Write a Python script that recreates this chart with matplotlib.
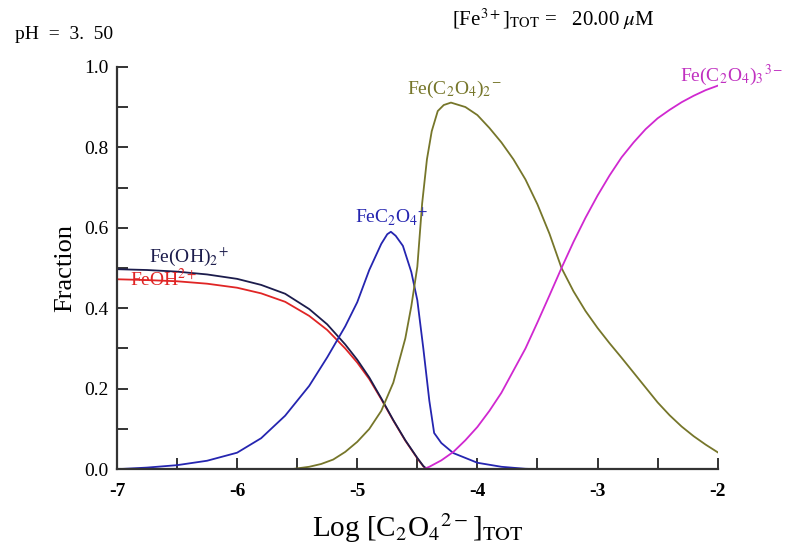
import numpy as np
import matplotlib
matplotlib.use("Agg")
import matplotlib.pyplot as plt
from matplotlib.ticker import MultipleLocator

plt.rcParams["font.family"] = "Liberation Serif"
plt.rcParams["mathtext.fontset"] = "stix"
plt.rcParams["axes.unicode_minus"] = False

# values
x_feoh2 = [-7.0, -6.75, -6.5, -6.25, -6.0, -5.8, -5.6, -5.4, -5.25, -5.1, -5.0, -4.9,
           -4.8, -4.7, -4.6, -4.5, -4.45, -4.42]
y_feoh2 = [0.497, 0.495, 0.491, 0.484, 0.473, 0.458, 0.436, 0.398, 0.360, 0.310, 0.272, 0.228,
           0.176, 0.122, 0.072, 0.028, 0.008, 0.0]

x_feoh = [-7.0, -6.75, -6.5, -6.25, -6.0, -5.8, -5.6, -5.4, -5.25, -5.1, -5.0, -4.9,
          -4.8, -4.7, -4.6, -4.5, -4.45, -4.42]
y_feoh = [0.472, 0.470, 0.467, 0.461, 0.451, 0.437, 0.416, 0.381, 0.346, 0.300, 0.265, 0.224,
          0.174, 0.121, 0.071, 0.027, 0.007, 0.0]

x_fec2o4 = [-7.0, -6.75, -6.5, -6.25, -6.0, -5.8, -5.6, -5.4, -5.25, -5.1, -5.0, -4.9,
            -4.8, -4.75, -4.72, -4.68, -4.62, -4.55, -4.5, -4.45, -4.4, -4.36, -4.3,
            -4.2, -4.0, -3.8, -3.6, -3.5]
y_fec2o4 = [0.0, 0.004, 0.010, 0.021, 0.041, 0.077, 0.133, 0.207, 0.278, 0.355, 0.415, 0.495,
            0.560, 0.584, 0.590, 0.580, 0.555, 0.490, 0.420, 0.300, 0.170, 0.090, 0.065,
            0.040, 0.016, 0.006, 0.001, 0.0]

x_fec2o42 = [-5.55, -5.4, -5.3, -5.2, -5.1, -5.0, -4.9, -4.8, -4.7, -4.6, -4.55, -4.5,
             -4.46, -4.42, -4.38, -4.33, -4.28, -4.22, -4.1, -4.0, -3.9, -3.8, -3.7,
             -3.6, -3.5, -3.4, -3.3, -3.2, -3.1, -3.0, -2.9, -2.8, -2.7, -2.6, -2.5,
             -2.4, -2.3, -2.2, -2.1, -2.0]
y_fec2o42 = [0.0, 0.006, 0.013, 0.024, 0.043, 0.068, 0.100, 0.145, 0.215, 0.325, 0.405, 0.503,
             0.660, 0.770, 0.840, 0.890, 0.905, 0.911, 0.900, 0.880, 0.848, 0.812, 0.770,
             0.720, 0.658, 0.585, 0.500, 0.442, 0.393, 0.351, 0.313, 0.277, 0.240, 0.203, 0.166,
             0.134, 0.106, 0.082, 0.061, 0.042]

x_fec2o43 = [-4.45, -4.4, -4.3, -4.2, -4.1, -4.0, -3.9, -3.8, -3.7, -3.6, -3.5, -3.4,
             -3.3, -3.2, -3.1, -3.0, -2.9, -2.8, -2.7, -2.6, -2.5, -2.4, -2.3, -2.2,
             -2.1, -2.0]
y_fec2o43 = [0.0, 0.006, 0.022, 0.043, 0.072, 0.105, 0.145, 0.190, 0.245, 0.300, 0.365, 0.432,
             0.500, 0.565, 0.625, 0.680, 0.730, 0.775, 0.812, 0.845, 0.872, 0.893, 0.912, 0.928,
             0.942, 0.953]

fig, ax = plt.subplots(figsize=(8.01, 5.52), dpi=100)
fig.subplots_adjust(left=0.146, right=0.896, bottom=0.150, top=0.879)

ax.plot(x_feoh, y_feoh, color="#e02525", lw=1.3)
ax.plot(x_feoh2, y_feoh2, color="#1c1c4c", lw=1.3)
ax.plot(x_fec2o4, y_fec2o4, color="#2525b0", lw=1.3)
ax.plot(x_fec2o42, y_fec2o42, color="#76762a", lw=1.3)
ax.plot(x_fec2o43, y_fec2o43, color="#d028d0", lw=1.3)

ax.set_xlim(-7, -2)
ax.set_ylim(0, 1.0)
ax.spines["top"].set_visible(False)
ax.spines["right"].set_visible(False)
for s in ["left", "bottom"]:
    ax.spines[s].set_linewidth(1.6)
    ax.spines[s].set_color("#333333")

ax.xaxis.set_major_locator(MultipleLocator(1))
ax.xaxis.set_minor_locator(MultipleLocator(0.5))
ax.yaxis.set_major_locator(MultipleLocator(0.2))
ax.yaxis.set_minor_locator(MultipleLocator(0.1))
ax.tick_params(which="both", direction="in", width=1.4, color="#333333", length=8)
ax.tick_params(axis="x", labelsize=14, pad=10)
ax.tick_params(axis="y", labelsize=14, pad=6)
ax.set_xticks([-7, -6, -5, -4, -3, -2])
ax.set_xticklabels(["-7", "-6", "-5", "-4", "-3", "-2"], fontweight="bold")
ax.set_yticks([0.0, 0.2, 0.4, 0.6, 0.8, 1.0])
ax.set_yticklabels(["0.0", "0.2", "0.4", "0.6", "0.8", "1.0"])

ax.set_xlabel(r"Log [C$_2$O$_4$$^{2-}$]$_{\rm TOT}$", fontsize=21, labelpad=8)
ax.set_ylabel("Fraction", fontsize=19, labelpad=6)

ax.text(-6.73, 0.515, r"Fe(OH)$_2{}^{+}$", color="#1c1c4c", fontsize=14)
ax.text(-6.89, 0.455, r"FeOH$^{2+}$", color="#e02525", fontsize=14)
ax.text(-5.02, 0.612, r"FeC$_2$O$_4{}^{+}$", color="#2525b0", fontsize=14)
ax.text(-4.59, 0.932, r"Fe(C$_2$O$_4$)$_2{}^{-}$", color="#76762a", fontsize=14)
ax.text(-2.31, 0.965, r"Fe(C$_2$O$_4$)$_3{}^{3-}$", color="#c030c0", fontsize=14)

fig.text(15 / 801, 1 - 39 / 552, "pH  =  3.  50", fontsize=14)
fig.text(452 / 801, 1 - 26 / 552, r"[Fe$^{3+}$]$_{\rm TOT}$ =   20.00 $\mu$M", fontsize=15)

fig.savefig("out.png", dpi=100)
